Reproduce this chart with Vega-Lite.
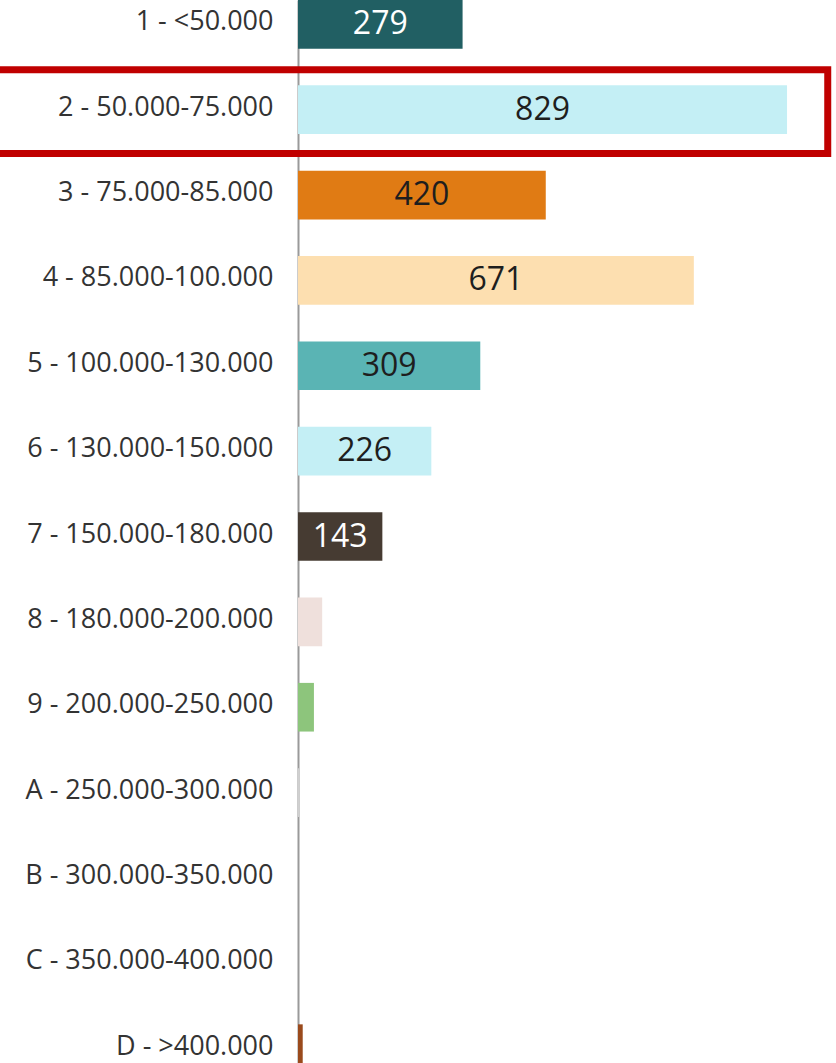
{
  "$schema": "https://vega.github.io/schema/vega-lite/v6.json",
  "width": 538,
  "height": 1063,
  "autosize": "none",
  "padding": {"left": 298, "top": 0, "right": 0, "bottom": 0},
  "background": "white",
  "config": {"view": {"stroke": null}, "font": "Open Sans"},
  "data": {"values": [
    {"category": "1 - <50.000", "value": 279},
    {"category": "2 - 50.000-75.000", "value": 829},
    {"category": "3 - 75.000-85.000", "value": 420},
    {"category": "4 - 85.000-100.000", "value": 671},
    {"category": "5 - 100.000-130.000", "value": 309},
    {"category": "6 - 130.000-150.000", "value": 226},
    {"category": "7 - 150.000-180.000", "value": 143},
    {"category": "8 - 180.000-200.000", "value": 41},
    {"category": "9 - 200.000-250.000", "value": 27},
    {"category": "A - 250.000-300.000", "value": 2},
    {"category": "B - 300.000-350.000", "value": 0},
    {"category": "C - 350.000-400.000", "value": 0},
    {"category": "D - >400.000", "value": 8}
  ]},
  "encoding": {
    "y": {
      "field": "category",
      "type": "nominal",
      "sort": null,
      "scale": {"paddingInner": 0.43, "paddingOuter": 0, "align": 0, "rangeMax": 1073},
      "axis": {
        "title": null,
        "ticks": false,
        "labelFontSize": 27,
        "labelFont": "Open Sans",
        "labelPadding": 25,
        "labelColor": "#333333",
        "labelLimit": 400,
        "labelOffset": -2,
        "domainColor": "#9a9a9a",
        "domainWidth": 2
      }
    }
  },
  "layer": [
    {
      "mark": {"type": "bar"},
      "encoding": {
        "x": {"field": "value", "type": "quantitative", "scale": {"domain": [0, 912], "nice": false, "zero": true}, "axis": null},
        "color": {
          "field": "category",
          "type": "nominal",
          "legend": null,
          "scale": {
            "domain": ["1 - <50.000", "2 - 50.000-75.000", "3 - 75.000-85.000", "4 - 85.000-100.000", "5 - 100.000-130.000", "6 - 130.000-150.000", "7 - 150.000-180.000", "8 - 180.000-200.000", "9 - 200.000-250.000", "A - 250.000-300.000", "B - 300.000-350.000", "C - 350.000-400.000", "D - >400.000"],
            "range": ["#215f63", "#c4eff5", "#e07b14", "#fddfb0", "#5ab4b4", "#c4eff5", "#463b32", "#efe0dc", "#8dc57c", "#d0d0d0", "#cccccc", "#cccccc", "#9a4a1c"]
          }
        }
      }
    },
    {
      "transform": [
        {"filter": "datum.value >= 100"},
        {"calculate": "datum.value / 2", "as": "mid"}
      ],
      "mark": {"type": "text", "fontSize": 32, "font": "Open Sans", "align": "center", "baseline": "middle"},
      "encoding": {
        "x": {"field": "mid", "type": "quantitative"},
        "text": {"field": "value", "type": "quantitative"},
        "color": {
          "condition": {"test": "datum.category === '1 - <50.000' || datum.category === '7 - 150.000-180.000'", "value": "#ffffff"},
          "value": "#1e1e1e"
        }
      }
    },
    {
      "data": {"values": [{"category": "2 - 50.000-75.000", "x0": -520, "x1": 898}]},
      "mark": {"type": "rect", "fill": null, "stroke": "#c00000", "strokeWidth": 7, "height": {"band": 1.72}, "yOffset": 2},
      "encoding": {
        "x": {"field": "x0", "type": "quantitative"},
        "x2": {"field": "x1"}
      }
    }
  ]
}
